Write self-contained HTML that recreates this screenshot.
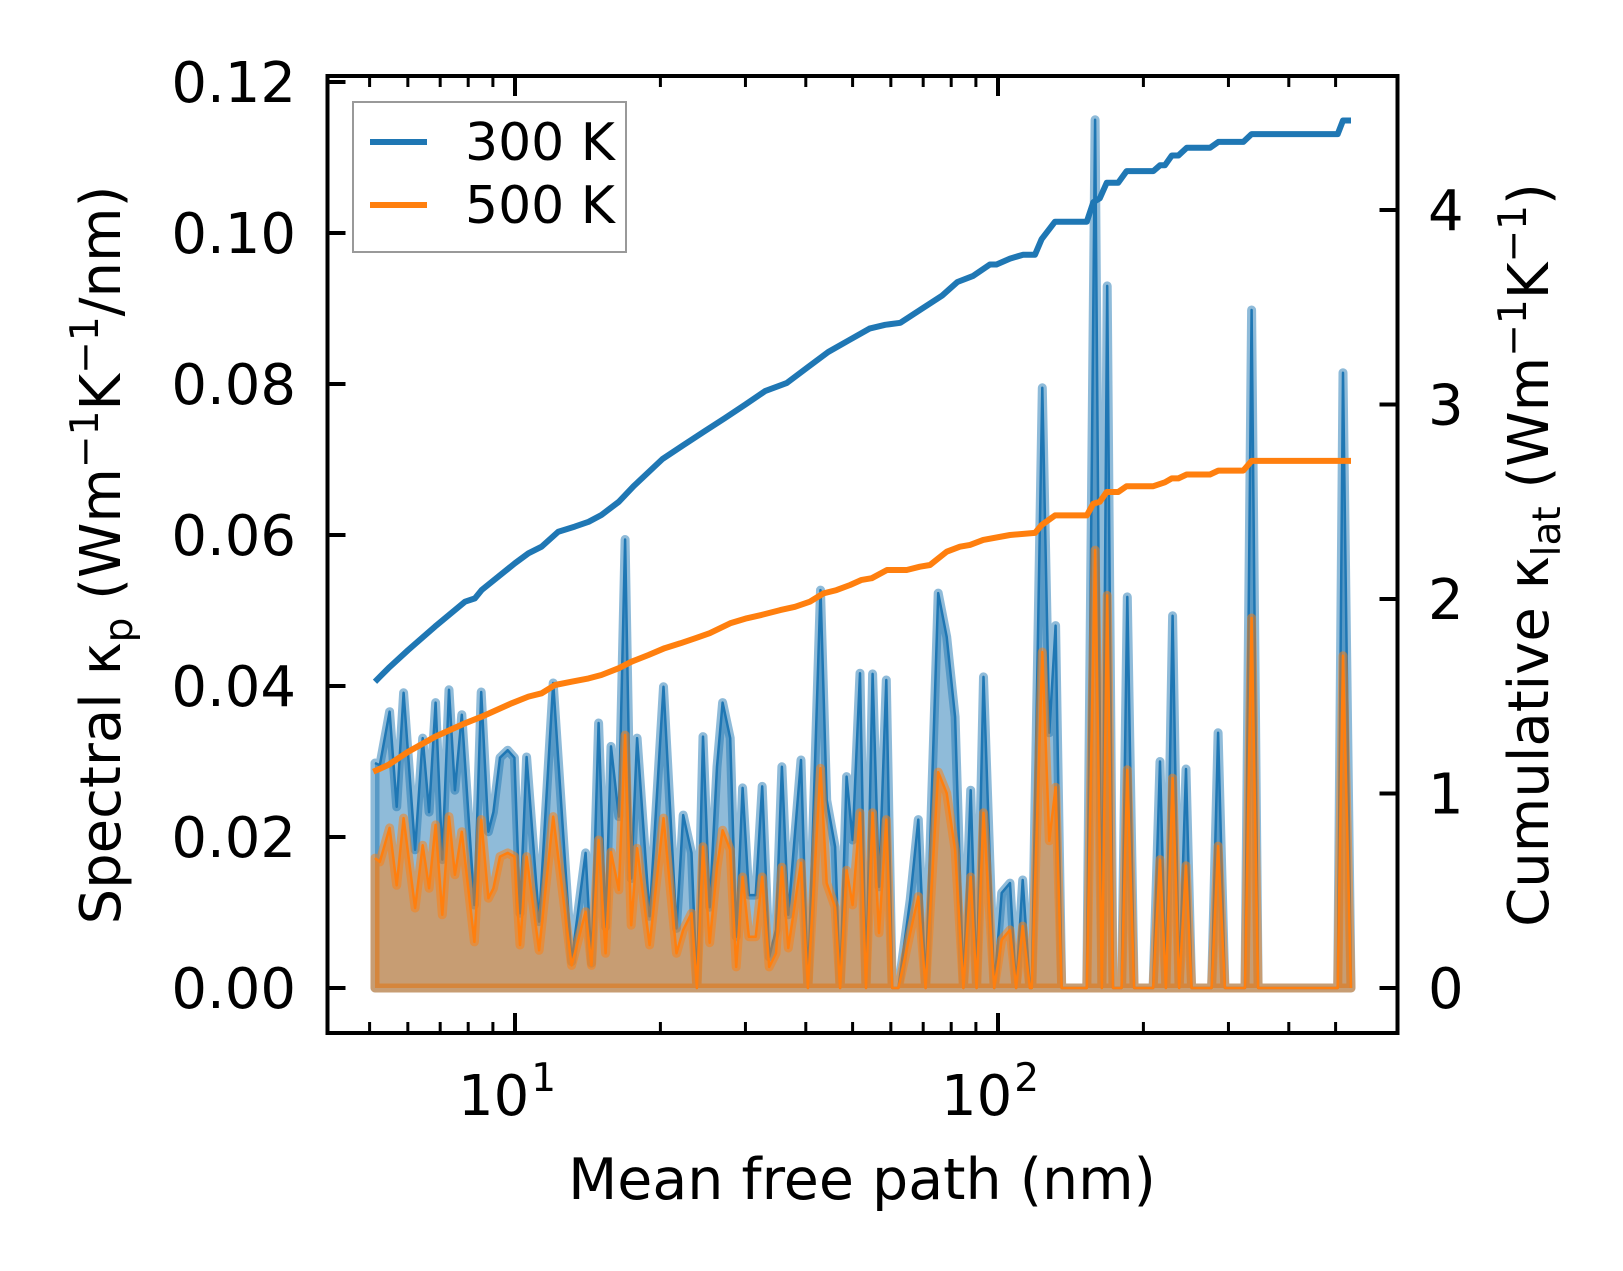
<!DOCTYPE html>
<html><head><meta charset="utf-8"><style>
html,body{margin:0;padding:0;background:#fff;}
svg{display:block;font-family:"DejaVu Sans","Liberation Sans",sans-serif;}
</style></head><body>
<svg id="chart" width="1623" height="1271" viewBox="0 0 1623 1271" xmlns="http://www.w3.org/2000/svg">
<rect x="0" y="0" width="1623" height="1271" fill="#fff"/>
<g id="plot"></g>
<g id="axes"></g>
<text x="862" y="1199" font-size="57" text-anchor="middle">Mean free path (nm)</text>
<text transform="translate(120,555) rotate(-90)" font-size="56" text-anchor="middle">Spectral κ<tspan font-size="39" dy="12">p</tspan><tspan dy="-12"> (Wm</tspan><tspan font-size="39" dy="-22">−1</tspan><tspan dy="22">K</tspan><tspan font-size="39" dy="-22">−1</tspan><tspan dy="22">/nm)</tspan></text>
<text transform="translate(1548,555) rotate(-90)" font-size="56" text-anchor="middle">Cumulative κ<tspan font-size="39" dy="12">lat</tspan><tspan dy="-12"> (Wm</tspan><tspan font-size="39" dy="-22">−1</tspan><tspan dy="22">K</tspan><tspan font-size="39" dy="-22">−1</tspan><tspan dy="22">)</tspan></text>
<g>
<rect x="353" y="102" width="273" height="150" fill="#fff" fill-opacity="0.8" stroke="#999" stroke-width="2"/>
<line x1="370" y1="142" x2="427" y2="142" stroke="#1f77b4" stroke-width="6"/>
<text x="465" y="160" font-size="52">300 K</text>
<line x1="370" y1="205" x2="427" y2="205" stroke="#ff7f0e" stroke-width="6"/>
<text x="465" y="223" font-size="52">500 K</text>
</g>
</svg>
<script>
const mfpSpec = [5.13,5.25,5.50,5.69,5.88,6.21,6.44,6.64,6.85,7.07,7.30,7.51,7.76,8.24,8.51,8.81,9.02,9.31,9.66,9.97,10.24,10.57,11.22,12.0,13.1,14.0,14.4,14.9,15.4,15.8,16.4,16.9,17.4,17.9,19.0,20.3,21.6,22.3,
23.2,23.8,24.5,25.3,26.2,26.9,27.9,28.7,29.6,30.5,31.5,32.5,33.6,34.7,35.7,36.8,39.1,40.4,42.9,44.2,46.0,47.1,48.6,50.0,51.8,53.3,55.0,56.7,58.7,60.4,62.2,65.8,68.4,70.8,75.2,78.3,81.5,84.8,87.8,90.3,93.3,98.2,101.8,105.9,
109,112.5,116.4,117.5,123.5,127.7,131.6,135.5,152.7,158.9,164.1,168.3,173.0,180.3,185.2,191.3,209.5,216.5,222.6,229.9,237.1,245.0,251.7,276.9,285.5,295,324.6,335,345.6,505,518,538];
const kp300 = [0.0298,0.0295,0.0366,0.0240,0.0391,0.0183,0.0331,0.0233,0.0378,0.0170,0.0395,0.0262,0.0362,0.0110,0.0392,0.0207,0.0233,0.0305,0.0315,0.0305,0.0099,0.0306,0.0088,0.0404,0.0035,0.0179,0.0033,0.0351,0.0081,0.0320,0.0227,0.0594,0.0145,0.0331,0.0095,0.0399,0.0079,0.0229,
0.0179,0,0.0333,0.0107,0.0293,0.0378,0.0331,0.0068,0.0265,0.0123,0.0123,0.0267,0.0041,0.0077,0.0293,0.0097,0.0302,0,0.0527,0.0249,0.0187,0,0.0280,0.0196,0.0417,0,0.0416,0.0134,0.0408,0,0,0.0117,0.0223,0,0.0523,0.0465,0.0359,0,0.0262,0,0.0412,0,0.0126,0.0139,
0,0.0143,0,0,0.0795,0.0338,0.0480,0,0,0.1150,0,0.0930,0,0,0.0518,0,0,0.0300,0,0.0493,0,0.0290,0,0,0.0338,0,0,0.0898,0,0,0.0815,0];
const kp500 = [0.0172,0.0167,0.0212,0.0136,0.0225,0.0106,0.0189,0.0132,0.0216,0.0097,0.0227,0.0150,0.0207,0.0061,0.0223,0.0119,0.0132,0.0174,0.0179,0.0174,0.0057,0.0174,0.0050,0.0227,0.0030,0.0101,0.0030,0.0196,0.0046,0.0180,0.0130,0.0335,0.0083,0.0185,0.0057,0.0225,0.0046,0.0077,
0.0099,0,0.0187,0.0060,0.0160,0.0209,0.0183,0.0028,0.0147,0.0068,0.0068,0.0147,0.0028,0.0046,0.0160,0.0053,0.0166,0,0.0291,0.0139,0.0107,0,0.0156,0.0110,0.0232,0,0.0232,0.0073,0.0223,0,0,0.0073,0.0121,0,0.0286,0.0258,0.0183,0,0.0147,0,0.0232,0,0.0064,0.0077,
0,0.0082,0,0,0.0445,0.0195,0.0266,0,0,0.0580,0,0.0520,0,0,0.0289,0,0,0.0170,0,0.0278,0,0.0162,0,0,0.0188,0,0,0.0490,0,0,0.0440,0];
const mfpCum300 = [5.13,5.47,6.01,6.83,7.88,8.26,8.53,10,10.66,11.35,12.29,13.3,14.2,15.1,16.4,17.6,20.2,22.3,24.6,27.2,30.0,33.0,36.5,40.3,44.5,49.1,54.2,58.4,62.8,69.3,76.6,82.4,88.7,96.2,99.3,105.9,112.7,119.3,123.1,131.2,152.7,157.5,162.5,167.9,177.4,184.6,209.7,216.5,221.6,229,236.3,245.8,274.8,285.8,322,335,505,518,538];
const kapCum300 = [1.575,1.644,1.738,1.858,1.986,2.003,2.046,2.184,2.235,2.269,2.346,2.372,2.397,2.432,2.500,2.58,2.72,2.79,2.86,2.93,3.00,3.07,3.11,3.19,3.27,3.33,3.39,3.41,3.42,3.49,3.56,3.63,3.66,3.72,3.72,3.75,3.77,3.77,3.85,3.94,3.94,4.04,4.06,4.14,4.14,4.20,4.20,4.23,4.23,4.28,4.28,4.32,4.32,4.35,4.35,4.39,4.39,4.46,4.46];
const mfpCum500 = [5.09,5.47,6.01,6.83,7.88,8.53,9.84,10.66,11.35,12.1,13.1,14.2,15.1,16.4,17.45,18.9,20.4,22.0,23.6,25.3,27.9,30.2,32.4,35.4,38.0,40.8,43.5,46.3,49.4,52.2,54.8,58.9,64.7,68.9,72.3,78.3,83.4,87.5,93.2,105.9,119.3,123.1,131.2,152.7,157.5,162.5,167.9,177.4,184.6,209.7,221.6,229,236.3,245.8,274.8,285.8,322,335,538];
const kapCum500 = [1.112,1.147,1.215,1.292,1.361,1.395,1.464,1.498,1.515,1.558,1.575,1.592,1.609,1.644,1.678,1.712,1.747,1.772,1.798,1.824,1.875,1.901,1.918,1.943,1.960,1.986,2.029,2.046,2.072,2.098,2.107,2.149,2.149,2.166,2.175,2.243,2.269,2.278,2.304,2.329,2.34,2.38,2.43,2.43,2.49,2.50,2.55,2.55,2.58,2.58,2.60,2.62,2.62,2.64,2.64,2.66,2.66,2.71,2.71];
const leftTicks = [0, 0.02, 0.04, 0.06, 0.08, 0.10, 0.12];
const leftTickLabels = ["0.00","0.02","0.04","0.06","0.08","0.10","0.12"];
const rightTicks = [0, 1, 2, 3, 4];
const rightTickLabels = ["0","1","2","3","4"];
const xMajor = [10, 100];
const xMajorExp = ["1","2"];
const xMinor = [5,6,7,8,9,20,30,40,50,60,70,80,90,200,300,400,500];

const NS = "http://www.w3.org/2000/svg";
const L = 327.5, R = 1397.5, T = 76, B = 1033;
function xs(v){ return 515 + (Math.log10(v) - 1) * 483; }
function yl(v){ return 988 - v / 0.02 * 151; }
function yr(v){ return 988 - v * 194.5; }
function mk(tag, attrs, parent){ const e = document.createElementNS(NS, tag); for (const k in attrs) e.setAttribute(k, attrs[k]); parent.appendChild(e); return e; }
const plot = document.getElementById('plot');
const axes = document.getElementById('axes');
const clip = mk('clipPath', {id:'clipP'}, plot);
mk('rect', {x:L, y:T, width:R-L, height:B-T}, clip);
const g = mk('g', {'clip-path':'url(#clipP)'}, plot);

function spectral(vals, color, name){
  let pts = mfpSpec.map((m,i)=> xs(m).toFixed(1)+','+yl(vals[i]).toFixed(1));
  const x0 = xs(mfpSpec[0]).toFixed(1), x1 = xs(mfpSpec[mfpSpec.length-1]).toFixed(1), y0 = yl(0).toFixed(1);
  const poly = [x0+','+y0].concat(pts).concat([x1+','+y0]).join(' ');
  const f = mk('polygon', {points: poly, fill: color, 'fill-opacity': 0.5, stroke: color, 'stroke-opacity': 0.5, 'stroke-width': 9, 'stroke-linejoin':'round'}, g);
  
  
  const l = mk('polyline', {points: pts.join(' '), fill:'none', stroke: color, 'stroke-width': 2.5, 'stroke-linejoin':'round'}, g);
  
  
}
spectral(kp300, '#1f77b4', 'spectral-300k');
spectral(kp500, '#ff7f0e', 'spectral-500k');

function cum(mfps, vals, color, name){
  const pts = mfps.map((m,i)=> xs(m).toFixed(1)+','+yr(vals[i]).toFixed(1)).join(' ');
  const l = mk('polyline', {points: pts, fill:'none', stroke: color, 'stroke-width': 6, 'stroke-linejoin':'round'}, g);
  
  
}
cum(mfpCum300, kapCum300, '#1f77b4', 'cumulative-300k-line');
cum(mfpCum500, kapCum500, '#ff7f0e', 'cumulative-500k-line');

const frame = mk('rect', {x:L, y:T, width:R-L, height:B-T, fill:'none', stroke:'#000', 'stroke-width':4}, axes);



leftTicks.forEach((v,i)=>{
  const y = yl(v);
  const t = mk('line', {x1:L, x2:L+18, y1:y, y2:y, stroke:'#000', 'stroke-width':4}, axes);
  
  
  const tx = mk('text', {x:296, y:y+20, 'font-size':56, 'text-anchor':'end'}, axes);
  tx.textContent = leftTickLabels[i];
  
  
});
rightTicks.forEach((v,i)=>{
  const y = yr(v);
  const t = mk('line', {x1:R-18, x2:R, y1:y, y2:y, stroke:'#000', 'stroke-width':4}, axes);
  
  
  const tx = mk('text', {x:1428, y:y+20, 'font-size':56}, axes);
  tx.textContent = rightTickLabels[i];
  
  
});
xMajor.forEach((v,i)=>{
  const x = xs(v);
  [[B, B-20],[T, T+20]].forEach(p=>{
    const t = mk('line', {x1:x, x2:x, y1:p[0], y2:p[1], stroke:'#000', 'stroke-width':4}, axes);
    
    
  });
  const tx = mk('text', {x:x-8, y:1115, 'font-size':56, 'text-anchor':'middle'}, axes);
  tx.textContent = '10';
  const sp = mk('tspan', {'font-size':39, dx:2, dy:-24}, tx);
  sp.textContent = xMajorExp[i];
  
  
});
xMinor.forEach(v=>{
  const x = xs(v);
  [[B, B-11],[T, T+11]].forEach(p=>{
    const t = mk('line', {x1:x, x2:x, y1:p[0], y2:p[1], stroke:'#000', 'stroke-width':3}, axes);
    
    
  });
});
</script>
</body></html>
